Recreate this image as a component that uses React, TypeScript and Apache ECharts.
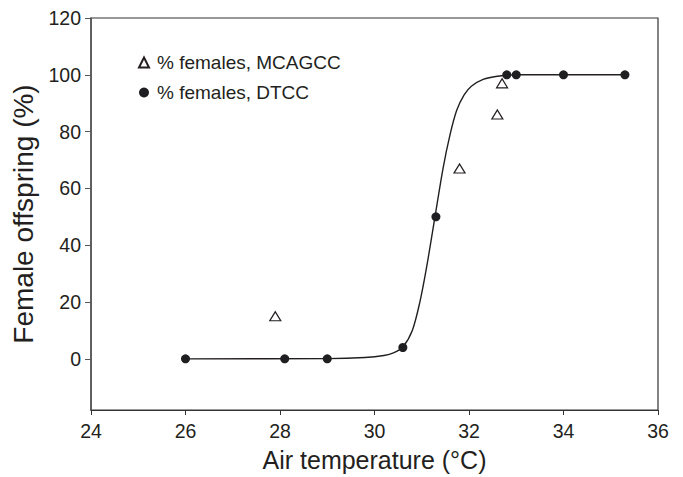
import React, { useEffect, useRef } from "react";
import * as echarts from "echarts";

// Data
const mcagccX = [27.9, 31.8, 32.6, 32.7];
const mcagccY = [15, 67, 86, 97];
const dtccX = [26, 28.1, 29, 30.6, 31.3, 32.8, 33, 34, 35.3];
const dtccY = [0, 0, 0, 4, 50, 100, 100, 100, 100];
// fitted curve
const curveX = [26, 29, 29.8, 30.2, 30.4, 30.6, 30.8, 30.96, 31.1, 31.28, 31.45, 31.6, 31.74, 31.9, 32.05, 32.3, 32.6, 33, 35.3];
const curveY = [0, 0.1, 0.5, 1.2, 2.1, 4.2, 10, 20, 32, 50, 67, 79, 87.5, 93, 96, 98.4, 99.5, 100, 100];
const yTicks = [0, 20, 40, 60, 80, 100, 120];
const xTicks = [24, 26, 28, 30, 32, 34, 36];

const FONT = "'Liberation Sans', Arial, Helvetica, sans-serif";
const INK = "#231f20";

export default function App() {
  const ref = useRef<HTMLDivElement>(null);
  useEffect(() => {
    if (!ref.current) return;
    const chart = echarts.init(ref.current, undefined, { renderer: "svg" });
    const pairs = (xs: number[], ys: number[]) => xs.map((x, i) => [x, ys[i]]);
    chart.setOption({
      animation: false,
      backgroundColor: "#fff",
      textStyle: { fontFamily: FONT, color: INK },
      grid: {
        left: 91,
        right: 25,
        top: 18,
        bottom: 63,
        show: true,
        borderColor: "#333",
        borderWidth: 1.2,
      },
      legend: {
        data: ["% females, MCAGCC", "% females, DTCC"],
        orient: "vertical",
        left: 133,
        top: 48,
        itemWidth: 10,
        itemHeight: 10,
        itemGap: 11,
        textStyle: { fontFamily: FONT, fontSize: 19, color: INK, padding: [0, 0, 0, 3] },
      },
      xAxis: {
        type: "value",
        min: 24,
        max: 36,
        interval: 2,
        name: "Air temperature (°C)",
        nameLocation: "middle",
        nameGap: 37,
        nameTextStyle: { fontFamily: FONT, fontSize: 25, color: INK },
        axisLine: { onZero: false, lineStyle: { color: "#333", width: 1.2 } },
        axisTick: { show: true, length: 5, lineStyle: { color: "#333" }, customValues: xTicks },
        axisLabel: { fontFamily: FONT, fontSize: 19.5, color: INK, margin: 11, customValues: xTicks },
        splitLine: { show: false },
      },
      yAxis: {
        type: "value",
        min: -18,
        max: 120,
        name: "Female offspring (%)",
        nameLocation: "middle",
        nameGap: 54,
        nameTextStyle: { fontFamily: FONT, fontSize: 28, color: INK },
        axisLine: { show: true, onZero: false, lineStyle: { color: "#555", width: 1.5 } },
        axisTick: { show: true, length: 6, lineStyle: { color: "#555" }, customValues: yTicks },
        axisLabel: { fontFamily: FONT, fontSize: 19.5, color: INK, margin: 10, customValues: yTicks },
        splitLine: { show: false },
      },
      series: [
        {
          type: "line",
          name: "fit",
          data: pairs(curveX, curveY),
          showSymbol: false,
          smooth: 0.3,
          lineStyle: { color: INK, width: 1.4 },
          z: 1,
          silent: true,
        },
        {
          type: "scatter",
          name: "% females, MCAGCC",
          data: pairs(mcagccX, mcagccY),
          symbol: "triangle",
          symbolSize: [11, 9],
          itemStyle: { color: "#fff", borderColor: INK, borderWidth: 1.2, opacity: 1 },
          z: 3,
        },
        {
          type: "scatter",
          name: "% females, DTCC",
          data: pairs(dtccX, dtccY),
          symbol: "circle",
          symbolSize: 9,
          itemStyle: { color: "#1f1f22", opacity: 1 },
          z: 4,
        },
      ],
    });
    return () => chart.dispose();
  }, []);
  return <div ref={ref} style={{ width: 683, height: 477, position: "absolute", left: 0, top: 0 }} />;
}
